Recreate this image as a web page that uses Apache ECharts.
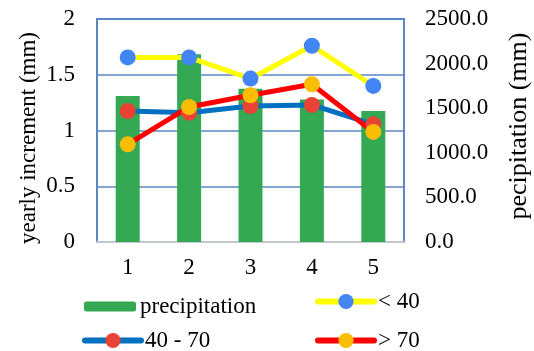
<!DOCTYPE html>
<html>
<head>
<meta charset="utf-8">
<script src="https://cdn.jsdelivr.net/npm/echarts@6/dist/echarts.min.js"></script>
<style>
html,body{margin:0;padding:0;background:#fff;}
#c{width:534px;height:351px;}
</style>
</head>
<body>
<div id="c"></div>
<script>
var categories = ['1', '2', '3', '4', '5'];
var precipitation = [1638, 2106, 1717, 1597, 1469];
var lt40 = [1.655, 1.655, 1.466, 1.76, 1.40];
var mid40to70 = [1.175, 1.16, 1.22, 1.229, 1.055];
var gt70 = [0.876, 1.211, 1.316, 1.415, 0.987];
var leftTicks = [0, 0.5, 1, 1.5, 2];
var rightTicks = [0, 500, 1000, 1500, 2000, 2500];
var seriesNames = ['precipitation', '< 40', '40 - 70', '> 70'];
var leftTitle = 'yearly increment (mm)';
var rightTitle = 'pecipitation (mm)';

var FONT = 'Liberation Serif';
var chart = echarts.init(document.getElementById('c'));

function lineSeries(name, data, lineColor, markerColor) {
  return {
    name: name, type: 'line', yAxisIndex: 0, data: data,
    symbol: 'circle', symbolSize: 16,
    lineStyle: { color: lineColor, width: 5 },
    itemStyle: { color: markerColor },
    emphasis: { disabled: true },
    animation: false
  };
}
function legendAt(name, left, top, w, h) {
  return {
    data: [name], left: left, top: top, itemWidth: w, itemHeight: h,
    itemGap: 0, padding: 0,
    lineStyle: { width: 6, cap: 'round' },
    textStyle: { fontFamily: FONT, fontSize: 23, color: '#000', padding: [0, 0, 0, -1] },
    selectedMode: false
  };
}

chart.setOption({
  animation: false,
  textStyle: { fontFamily: FONT },
  grid: { left: 97, right: 130, top: 19, bottom: 109, show: true, borderColor: '#5b87c5', borderWidth: 2, containLabel: false },
  xAxis: {
    type: 'category', data: categories,
    axisLine: { show: true, lineStyle: { color: '#c3c7cf', width: 2 } },
    axisTick: { show: false },
    axisLabel: { fontFamily: FONT, fontSize: 23, color: '#000', margin: 14 }
  },
  yAxis: [{
    type: 'value', min: leftTicks[0], max: leftTicks[leftTicks.length - 1], interval: 0.5,
    axisLine: { show: false }, axisTick: { show: false },
    splitLine: { show: true, lineStyle: { color: '#5b87c5', width: 1.5 } },
    axisLabel: { fontFamily: FONT, fontSize: 23, color: '#000', margin: 22 }
  }, {
    type: 'value', min: rightTicks[0], max: rightTicks[rightTicks.length - 1], interval: 500,
    axisLine: { show: false }, axisTick: { show: false }, splitLine: { show: false },
    axisLabel: { fontFamily: FONT, fontSize: 23, color: '#000', margin: 21,
      formatter: function (v) { return v.toFixed(1); } }
  }],
  graphic: [
    { type: 'text', x: 29, y: 138, rotation: Math.PI / 2,
      style: { text: leftTitle, fontFamily: FONT, fontSize: 23, fill: '#000', align: 'center', verticalAlign: 'middle' } },
    { type: 'text', x: 519, y: 126, rotation: Math.PI / 2,
      style: { text: rightTitle, fontFamily: FONT, fontSize: 26, fill: '#000', align: 'center', verticalAlign: 'middle' } }
  ],
  legend: [
    legendAt(seriesNames[0], 84, 295, 52, 10),
    legendAt(seriesNames[1], 315, 290, 56, 19),
    legendAt(seriesNames[2], 82, 329, 56, 19),
    legendAt(seriesNames[3], 315, 329, 56, 19)
  ],
  series: [
    { name: seriesNames[0], type: 'bar', yAxisIndex: 1, data: precipitation, barWidth: 24,
      itemStyle: { color: '#34a853' }, emphasis: { disabled: true } },
    lineSeries(seriesNames[1], lt40, '#ffff00', '#4285f4'),
    lineSeries(seriesNames[2], mid40to70, '#0070c0', '#ea4335'),
    lineSeries(seriesNames[3], gt70, '#ff0000', '#fbbc04')
  ]
});
</script>
</body>
</html>
